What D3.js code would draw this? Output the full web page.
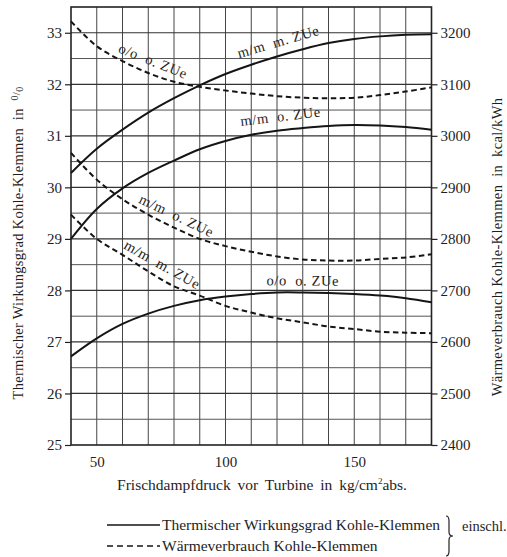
<!DOCTYPE html>
<meta charset="utf-8">
<title>Wirkungsgrad und Wärmeverbrauch Kohle-Klemmen</title>
<style>
  body { margin: 0; background: #fff; }
  svg text { font-family: "Liberation Serif", "DejaVu Serif", serif; fill: #1e1e1e; }
</style>
<body>
<div id="chart"></div>
<script src="https://cdn.jsdelivr.net/npm/d3@7/dist/d3.min.js"></script>
<script>

// Frischdampfdruck vor Turbine (kg/cm2 abs.)
const pressure = [40, 50, 60, 70, 80, 90, 100, 110, 120, 130, 140, 150, 160, 170, 180];

// Thermischer Wirkungsgrad Kohle-Klemmen in %
const etaMmMitZUe  = [30.28, 30.75, 31.12, 31.45, 31.73, 31.98, 32.20, 32.38, 32.54, 32.68, 32.80, 32.88, 32.93, 32.96, 32.97];
const etaMmOhneZUe = [29.00, 29.58, 29.98, 30.28, 30.52, 30.74, 30.90, 31.02, 31.10, 31.15, 31.19, 31.21, 31.20, 31.17, 31.12];
const etaOoOhneZUe = [26.72, 27.07, 27.35, 27.55, 27.70, 27.81, 27.88, 27.93, 27.96, 27.96, 27.95, 27.93, 27.90, 27.85, 27.77];

// Wärmeverbrauch Kohle-Klemmen in kcal/kWh
const heatOoOhneZUe = [3222, 3174, 3145, 3122, 3105, 3095, 3088, 3082, 3077, 3074, 3073, 3074, 3079, 3086, 3094];
const heatMmOhneZUe = [2967, 2915, 2877, 2847, 2822, 2800, 2786, 2775, 2766, 2760, 2758, 2758, 2761, 2764, 2770];
const heatMmMitZUe  = [2847, 2800, 2769, 2737, 2708, 2690, 2670, 2657, 2646, 2638, 2630, 2625, 2620, 2618, 2617];

const leftTicks = [25, 26, 27, 28, 29, 30, 31, 32, 33];
const rightTicks = [2400, 2500, 2600, 2700, 2800, 2900, 3000, 3100, 3200];
const xTicks = [50, 100, 150];

const width = 507;
const height = 557;

const svg = d3.select('#chart')
  .append('svg')
  .attr('width', width)
  .attr('height', height);

const x = d3.scaleLinear().domain([40, 180]).range([71, 431.5]);
const yL = d3.scaleLinear().domain([25, 33.5]).range([445, 7]);
const yR = d3.scaleLinear().domain([2400, 3250]).range([445, 7]);

// grid
const grid = svg.append('g');
grid.selectAll('line.v')
  .data(d3.range(50, 180, 10))
  .join('line')
  .attr('x1', d => x(d)).attr('x2', d => x(d))
  .attr('y1', yL(33.5)).attr('y2', yL(25))
  .attr('stroke', '#444').attr('stroke-width', 1);
grid.selectAll('line.h')
  .data(d3.range(25.5, 33.5, 0.5))
  .join('line')
  .attr('x1', x(40)).attr('x2', x(180))
  .attr('y1', d => yL(d)).attr('y2', d => yL(d))
  .attr('stroke', d => d % 1 === 0 ? '#333' : '#555')
  .attr('stroke-width', d => d % 1 === 0 ? 1.2 : 1);
grid.append('rect')
  .attr('x', x(40)).attr('y', yL(33.5))
  .attr('width', x(180) - x(40)).attr('height', yL(25) - yL(33.5))
  .attr('fill', 'none').attr('stroke', '#222').attr('stroke-width', 1.6);

// axes
const axisLeft = svg.append('g')
  .attr('transform', `translate(${x(40)},0)`)
  .call(d3.axisLeft(yL).tickValues(leftTicks).tickSize(6).tickPadding(3).tickFormat(d3.format('d')));
const axisRight = svg.append('g')
  .attr('transform', `translate(${x(180)},0)`)
  .call(d3.axisRight(yR).tickValues(rightTicks).tickSize(6).tickPadding(3).tickFormat(d3.format('d')));
const axisBottom = svg.append('g')
  .attr('transform', `translate(0,${yL(25)})`)
  .call(d3.axisBottom(x).tickValues(xTicks).tickSize(0).tickPadding(11).tickFormat(d3.format('d')));

[axisLeft, axisRight, axisBottom].forEach(g => {
  g.select('.domain').remove();
  g.selectAll('.tick line').attr('stroke', '#222').attr('stroke-width', 1.2);
  g.selectAll('.tick text')
    .attr('font-family', '"Liberation Serif", serif')
    .attr('font-size', 15)
    .attr('fill', '#1e1e1e');
});

// axis titles
svg.append('text')
  .attr('transform', 'translate(23,243) rotate(-90)')
  .attr('text-anchor', 'middle')
  .attr('font-size', 14.5)
  .attr('letter-spacing', 0.3)
  .html('Thermischer Wirkungsgrad Kohle-Klemmen&#160; in&#160; <tspan font-size="10" dy="-5">0</tspan><tspan font-size="11" dy="2">/</tspan><tspan font-size="10" dy="3">0</tspan>');

svg.append('text')
  .attr('transform', 'translate(502,247) rotate(-90)')
  .attr('text-anchor', 'middle')
  .attr('font-size', 14.5)
  .attr('letter-spacing', 0.35)
  .text('Wärmeverbrauch Kohle-Klemmen\u00a0 in\u00a0 kcal/kWh');

svg.append('text')
  .attr('x', 262).attr('y', 490)
  .attr('text-anchor', 'middle')
  .attr('font-size', 15.5)
  .attr('word-spacing', 3)
  .html('Frischdampfdruck vor Turbine in kg/cm<tspan font-size="9" dy="-6">2</tspan><tspan dy="6">abs.</tspan>');

// curves
const series = [
  {values: etaMmMitZUe,  axis: yL, dashed: false, label: 'm/m  m. ZUe', at: 122, off: 9},
  {values: etaMmOhneZUe, axis: yL, dashed: false, label: 'm/m  o. ZUe', at: 122, off: 9},
  {values: etaOoOhneZUe, axis: yL, dashed: false, label: 'o/o  o. ZUe', at: 130, off: 7},
  {values: heatOoOhneZUe, axis: yR, dashed: true, label: 'o/o  o. ZUe', at: 70, off: 8},
  {values: heatMmOhneZUe, axis: yR, dashed: true, label: 'm/m  o. ZUe', at: 79, off: 7},
  {values: heatMmMitZUe,  axis: yR, dashed: true, label: 'm/m  m. ZUe', at: 73, off: 8}
];

series.forEach(s => {
  const pts = pressure.map((p, i) => [x(p), s.axis(s.values[i])]);
  const line = d3.line().curve(d3.curveCatmullRom.alpha(0.5));
  svg.append('path')
    .attr('d', line(pts))
    .attr('fill', 'none')
    .attr('stroke', '#151515')
    .attr('stroke-width', 2)
    .attr('stroke-dasharray', s.dashed ? '5.5,3.5' : null);

  // label placed along the curve
  const interp = v => s.axis(d3.scaleLinear().domain(pressure).range(s.values)(v));
  const x0 = x(s.at - 11), x1 = x(s.at + 11);
  const y0 = interp(s.at - 11), y1 = interp(s.at + 11);
  const ang = Math.atan2(y1 - y0, x1 - x0);
  const cx = x(s.at) + s.off * Math.sin(ang);
  const cy = interp(s.at) - s.off * Math.cos(ang);
  svg.append('text')
    .attr('transform', `translate(${cx},${cy}) rotate(${ang * 180 / Math.PI})`)
    .attr('text-anchor', 'middle')
    .attr('font-size', 14.5)
    .attr('letter-spacing', 0.6)
    .style('white-space', 'pre')
    .text(s.label);
});

// legend
const legend = svg.append('g');
legend.append('line')
  .attr('x1', 107).attr('x2', 160).attr('y1', 525).attr('y2', 525)
  .attr('stroke', '#151515').attr('stroke-width', 1.6);
legend.append('line')
  .attr('x1', 107).attr('x2', 160).attr('y1', 546).attr('y2', 546)
  .attr('stroke', '#151515').attr('stroke-width', 1.6)
  .attr('stroke-dasharray', '6,4');
legend.append('text')
  .attr('x', 162).attr('y', 530)
  .attr('font-size', 15.5)
  .text('Thermischer Wirkungsgrad Kohle-Klemmen');
legend.append('text')
  .attr('x', 162).attr('y', 551)
  .attr('font-size', 15.5)
  .text('Wärmeverbrauch Kohle-Klemmen');

// brace
const bx = 446, by0 = 516, by1 = 556, bm = (by0 + by1) / 2;
const p = d3.path();
p.moveTo(bx, by0);
p.quadraticCurveTo(bx + 3, by0, bx + 3, by0 + 5);
p.lineTo(bx + 3, bm - 4);
p.quadraticCurveTo(bx + 3, bm, bx + 7, bm);
p.quadraticCurveTo(bx + 3, bm, bx + 3, bm + 4);
p.lineTo(bx + 3, by1 - 5);
p.quadraticCurveTo(bx + 3, by1, bx, by1);
legend.append('path')
  .attr('d', p.toString())
  .attr('fill', 'none').attr('stroke', '#222').attr('stroke-width', 1.2);

legend.append('text')
  .attr('x', 462).attr('y', 531)
  .attr('font-size', 14.5)
  .text('einschl.');
</script>
</body>
